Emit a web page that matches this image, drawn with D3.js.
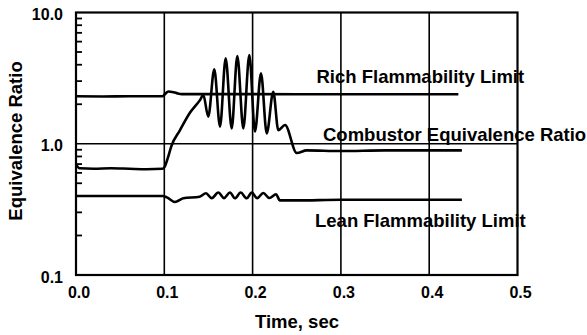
<!DOCTYPE html>
<html>
<head>
<meta charset="utf-8">
<script src="https://cdn.jsdelivr.net/npm/d3@7"></script>
<style>
  html, body { margin: 0; padding: 0; background: #fff; }
  svg { display: block; }
  text { font-family: "Liberation Sans", Arial, Helvetica, sans-serif; font-weight: bold; fill: #000; }
</style>
</head>
<body>
<svg id="chart" width="587" height="335"></svg>
<script>
// Axis ticks
const xTicks = [0.0, 0.1, 0.2, 0.3, 0.4, 0.5];
const xGrid = [0.1, 0.2, 0.3, 0.4];
const yTicks = [0.1, 1.0, 10.0];
const yGrid = [1.0];
const yMinor = [0.2, 0.3, 0.4, 0.5, 0.6, 0.7, 0.8, 0.9, 2, 3, 4, 5, 6, 7, 8, 9];

// Rich flammability limit
const richTime = [0.000, 0.030, 0.060, 0.098, 0.1015, 0.1045, 0.109, 0.114, 0.120, 0.160, 0.200, 0.300, 0.433];
const richPhi  = [2.30, 2.29, 2.30, 2.30, 2.42, 2.50, 2.48, 2.43, 2.39, 2.39, 2.39, 2.38, 2.38];

// Combustor equivalence ratio
const combTime = [0.000, 0.004, 0.020, 0.040, 0.060, 0.080, 0.098, 0.1005, 0.104, 0.108, 0.1178, 0.129, 0.1404, 0.1442,
                  0.1498, 0.1566, 0.1631, 0.1695, 0.1763, 0.1827, 0.1895, 0.1963, 0.2027, 0.2095, 0.2160, 0.2234,
                  0.2291, 0.2367, 0.2500, 0.2613, 0.300, 0.350, 0.437];
const combPhi  = [0.70, 0.65, 0.645, 0.65, 0.645, 0.64, 0.645, 0.67, 0.78, 0.96, 1.27, 1.72, 2.15, 2.35,
                  1.61, 3.69, 1.35, 4.48, 1.31, 4.66, 1.31, 4.74, 1.24, 3.44, 1.20, 2.49,
                  1.27, 1.39, 0.85, 0.89, 0.88, 0.89, 0.89];

// Lean flammability limit
const leanTime = [0.000, 0.030, 0.060, 0.098, 0.103, 0.112, 0.1215, 0.140,
                  0.1472, 0.1537, 0.1612, 0.1676, 0.1744, 0.1800, 0.1865, 0.1933, 0.1990, 0.2053, 0.2121, 0.2189, 0.2265,
                  0.231, 0.250, 0.300, 0.437];
const leanPhi  = [0.40, 0.40, 0.40, 0.40, 0.39, 0.36, 0.385, 0.395,
                  0.42, 0.385, 0.425, 0.385, 0.425, 0.384, 0.425, 0.384, 0.424, 0.385, 0.422, 0.386, 0.412,
                  0.37, 0.37, 0.374, 0.374];

const seriesLabels = ["Rich Flammability Limit", "Combustor Equivalence Ratio", "Lean Flammability Limit"];
const xTitle = "Time, sec";
const yTitle = "Equivalence Ratio";

const svg = d3.select("#chart");
const plotLeft = 76, plotRight = 517.5, plotTop = 12.5, plotBottom = 275;

const x = d3.scaleLinear().domain([0, 0.5]).range([plotLeft, plotRight]);
const y = d3.scaleLog().domain([0.1, 10]).range([plotBottom, plotTop]);

// grid lines
svg.append("g").selectAll("line").data(xGrid).join("line")
  .attr("x1", d => x(d)).attr("x2", d => x(d))
  .attr("y1", plotTop).attr("y2", plotBottom)
  .attr("stroke", "#000").attr("stroke-width", 1.6);
svg.append("g").selectAll("line").data(yGrid).join("line")
  .attr("x1", plotLeft).attr("x2", plotRight)
  .attr("y1", d => y(d)).attr("y2", d => y(d))
  .attr("stroke", "#000").attr("stroke-width", 1.6);

// frame
svg.append("rect")
  .attr("x", plotLeft).attr("y", plotTop)
  .attr("width", plotRight - plotLeft).attr("height", plotBottom - plotTop)
  .attr("fill", "none").attr("stroke", "#000").attr("stroke-width", 2.2);

// minor ticks on the left axis, pointing inward
svg.append("g").attr("class", "minor-ticks")
  .selectAll("line").data(yMinor).join("line")
  .attr("x1", plotLeft).attr("x2", plotLeft + 6)
  .attr("y1", d => y(d)).attr("y2", d => y(d))
  .attr("stroke", "#000").attr("stroke-width", 1.8);

// y tick labels
svg.append("g")
  .attr("transform", `translate(${plotLeft},0)`)
  .call(d3.axisLeft(y).tickValues(yTicks).tickSize(0).tickPadding(13).tickFormat(d3.format(".1f")))
  .call(g => g.select(".domain").remove())
  .call(g => g.selectAll("text")
    .attr("font-size", 16).attr("dy", "0.45em")
    .style("font-family", "'Liberation Sans', Arial, sans-serif").style("font-weight", "bold"));

// x tick labels
svg.append("g")
  .attr("transform", `translate(2.5,${plotBottom})`)
  .call(d3.axisBottom(x).tickValues(xTicks).tickSize(0).tickPadding(12).tickFormat(d3.format(".1f")))
  .call(g => g.select(".domain").remove())
  .call(g => g.selectAll("text")
    .attr("font-size", 16)
    .style("font-family", "'Liberation Sans', Arial, sans-serif").style("font-weight", "bold"));

// curves
const line = d3.line()
  .x(d => x(d[0])).y(d => y(d[1]))
  .curve(d3.curveMonotoneX);

const curves = [
  d3.zip(richTime, richPhi),
  d3.zip(combTime, combPhi),
  d3.zip(leanTime, leanPhi)
];
svg.append("g").selectAll("path").data(curves).join("path")
  .attr("d", line)
  .attr("fill", "none").attr("stroke", "#000")
  .attr("stroke-width", 2.6).attr("stroke-linejoin", "round");

// curve labels
const labelPos = [[316.5, 83], [323, 141], [315, 226.5]];
svg.append("g").selectAll("text").data(seriesLabels).join("text")
  .attr("x", (d, i) => labelPos[i][0])
  .attr("y", (d, i) => labelPos[i][1])
  .attr("font-size", 18.5)
  .text(d => d);

// axis titles
svg.append("text")
  .attr("x", 297).attr("y", 328)
  .attr("text-anchor", "middle").attr("font-size", 18.5)
  .text(xTitle);
svg.append("text")
  .attr("transform", "translate(21.5,141) rotate(-90)")
  .attr("text-anchor", "middle").attr("font-size", 18.5)
  .text(yTitle);
</script>
</body>
</html>
